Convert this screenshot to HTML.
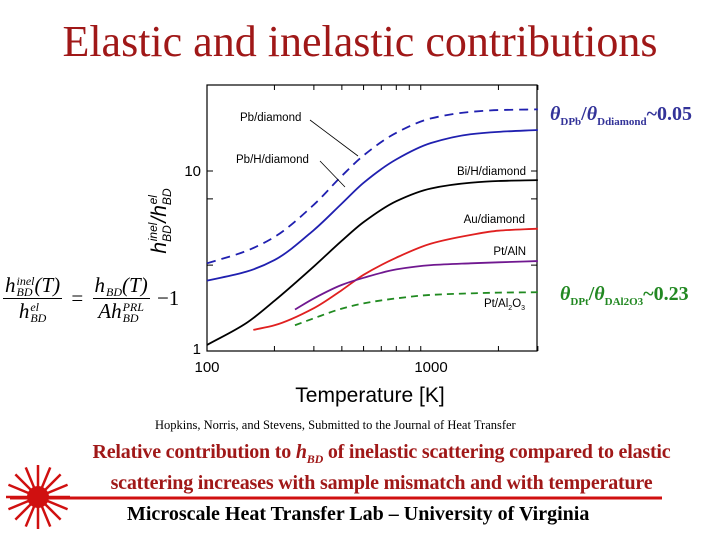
<!DOCTYPE html>
<html><head><meta charset="utf-8"><style>
html,body{margin:0;padding:0;background:#fff}
#wrap{position:relative;width:720px;height:540px;overflow:hidden;font-family:"Liberation Serif",serif}
.abs{position:absolute;white-space:nowrap}
.ss{display:inline-block;vertical-align:middle;line-height:11px;font-size:12px;text-align:left;margin-left:1px}
.ss span{display:block}
.frac{display:inline-block;text-align:center;vertical-align:middle}
.frac>span{display:block;padding:0 2px;line-height:24px}
.frac>span.num{border-bottom:1.2px solid #000}
</style></head><body>
<div id="wrap">
<div class="abs" style="left:0;width:720px;text-align:center;top:16px;font-size:44px;color:#a01818;">Elastic and inelastic contributions</div>
<div class="abs" style="left:550px;top:103px;font-size:20px;color:#333399;font-weight:bold;"><i>θ</i><sub style="font-size:11px">DPb</sub>/<i>θ</i><sub style="font-size:11px">Ddiamond</sub>~0.05</div>
<div class="abs" style="left:560px;top:283px;font-size:20px;color:#228822;font-weight:bold;"><i>θ</i><sub style="font-size:11px">DPt</sub>/<i>θ</i><sub style="font-size:11px">DAl2O3</sub>~0.23</div>
<svg id="chart" width="720" height="540" style="position:absolute;left:0;top:0"></svg>
<div class="abs" style="left:3px;top:273px;font-size:21px;font-style:italic;">
<span class="frac"><span class="num">h<span class="ss"><span>inel</span><span>BD</span></span>(T)</span><span>h<span class="ss"><span>el</span><span>BD</span></span></span></span>
<span style="font-style:normal;margin:0 4px;vertical-align:middle">=</span>
<span class="frac"><span class="num">h<span class="ss"><span>&nbsp;</span><span>BD</span></span>(T)</span><span>Ah<span class="ss"><span>PRL</span><span>BD</span></span></span></span>
<span style="font-style:normal;margin-left:2px;vertical-align:middle">−1</span></div>
<div class="abs" style="left:155px;top:418px;font-size:12.5px;color:#000;">Hopkins, Norris, and Stevens, Submitted to the Journal of Heat Transfer</div>
<div class="abs" style="left:0;width:763px;text-align:center;top:440px;font-size:20px;line-height:24px;color:#a01818;font-weight:bold;letter-spacing:-0.2px">Relative contribution to <i>h</i><sub style="font-size:12px"><i>BD</i></sub> of inelastic scattering compared to elastic<br>scattering increases with sample mismatch and with temperature</div>
<div class="abs" style="left:127px;top:503px;font-size:20px;font-weight:bold;color:#000;letter-spacing:0px">Microscale Heat Transfer Lab – University of Virginia</div>
</div>
<script>
const temps=[100,150,200,300,400,500,700,1000,1500,2000,3000];
const pbDiamond=[3.07,3.6,4.3,6.5,9.4,12.2,16.3,19.6,21.3,21.8,22];
const pbHDiamond=[2.46,2.76,3.2,4.7,6.6,8.6,11.6,14.3,16,16.5,16.9];
const biHDiamond=[1.08,1.43,1.9,2.95,4.1,5.2,6.8,8.0,8.6,8.8,8.9];
const auTemps=[161,200,300,400,500,700,1000,1500,2000,3000];
const auDiamond=[1.31,1.39,1.73,2.18,2.65,3.3,3.95,4.41,4.66,4.78];
const ptTemps=[247,300,400,500,700,1000,1500,2000,3000];
const ptAlN=[1.70,1.96,2.33,2.55,2.84,3.0,3.07,3.11,3.16];
const ptAl2O3=[1.39,1.52,1.72,1.84,1.96,2.05,2.09,2.11,2.12];
const xTicks=[100,1000];
const xMinor=[200,300,400,500,600,700,800,900,2000,3000];
const yTicks=[1,10];
const yMinor=[3,7];
const NS="http://www.w3.org/2000/svg";
const svg=document.getElementById('chart');
const X0=207,XD=224,Y0=351,YD=180,R=537,T=85;
const xs=t=>X0+XD*Math.log10(t/100);
const ys=v=>Y0-YD*Math.log10(v);
function mk(tag,attrs){const e=document.createElementNS(NS,tag);for(const k in attrs)e.setAttribute(k,attrs[k]);svg.appendChild(e);return e;}
const frame=mk('rect',{x:X0,y:T,width:R-X0,height:Y0-T,fill:'none',stroke:'#000','stroke-width':1.2});


xMinor.forEach(t=>{const l=mk('path',{d:`M${xs(t)},${Y0}v-5M${xs(t)},${T}v5`,stroke:'#000'});

});
yMinor.concat([10]).forEach(v=>{const l=mk('path',{d:`M${X0},${ys(v)}h6M${R},${ys(v)}h-6`,stroke:'#000'});

});
xTicks.forEach(t=>{const e=mk('text',{x:xs(t),y:Y0+21,'text-anchor':'middle','font-family':'Liberation Sans, sans-serif','font-size':15});e.textContent=String(t);

});
yTicks.forEach(v=>{const e=mk('text',{x:X0-6,y:ys(v)+(v===1?3:5),'text-anchor':'end','font-family':'Liberation Sans, sans-serif','font-size':15});e.textContent=String(v);

});
const xt=mk('text',{x:370,y:402,'text-anchor':'middle','font-family':'Liberation Sans, sans-serif','font-size':21});xt.textContent='Temperature [K]';


const yt=mk('text',{x:0,y:0,transform:'translate(166,221) rotate(-90)','text-anchor':'middle','font-family':'Liberation Sans, sans-serif','font-size':21,'font-style':'italic'});
yt.innerHTML='h<tspan font-size="12" dy="5">BD</tspan><tspan font-size="12" dx="-16" dy="-14">inel</tspan><tspan dy="9">/h</tspan><tspan font-size="12" dy="5">BD</tspan><tspan font-size="12" dx="-16" dy="-14">el</tspan>';


function curve(tt,vv,color,dash,name){
 const P=tt.map((t,i)=>[xs(t),ys(vv[i])]);const n=P.length;
 const h=[],s=[];for(let i=0;i<n-1;i++){h.push(P[i+1][0]-P[i][0]);s.push((P[i+1][1]-P[i][1])/h[i]);}
 const m=[s[0]];
 for(let i=1;i<n-1;i++){if(s[i-1]*s[i]<=0)m.push(0);else{const w1=2*h[i]+h[i-1],w2=h[i]+2*h[i-1];m.push((w1+w2)/(w1/s[i-1]+w2/s[i]));}}
 m.push(s[n-2]);
 let d=`M${P[0][0]},${P[0][1]}`;
 for(let i=0;i<n-1;i++){const dx=h[i]/3;
  d+=`C${P[i][0]+dx},${P[i][1]+m[i]*dx} ${P[i+1][0]-dx},${P[i+1][1]-m[i+1]*dx} ${P[i+1][0]},${P[i+1][1]}`;}
 const p=mk('path',{d,fill:'none',stroke:color,'stroke-width':1.8,'stroke-dasharray':dash||'none'});
 
 
}
curve(temps,pbDiamond,'#2020b0','9,6','series-pb-diamond');
curve(temps,pbHDiamond,'#2020b0','','series-pb-h-diamond');
curve(temps,biHDiamond,'#000','','series-bi-h-diamond');
curve(auTemps,auDiamond,'#e02020','','series-au-diamond');
curve(ptTemps,ptAlN,'#701890','','series-pt-aln');
curve(ptTemps,ptAl2O3,'#208a20','7,5','series-pt-al2o3');
const labels=[['Pb/diamond',240,121,'start'],['Pb/H/diamond',236,163,'start'],['Bi/H/diamond',526,175,'end'],['Au/diamond',525,223,'end'],['Pt/AlN',526,255,'end']];
labels.forEach(a=>{const e=mk('text',{x:a[1],y:a[2],'text-anchor':a[3],'font-family':'Liberation Sans, sans-serif','font-size':11.5,fill:'#000'});e.textContent=a[0];

});
const al=mk('text',{x:484,y:307,'font-family':'Liberation Sans, sans-serif','font-size':11.5});al.innerHTML='Pt/Al<tspan font-size="7" dy="3">2</tspan><tspan dy="-3">O</tspan><tspan font-size="7" dy="3">3</tspan>';


[['M310,120 L358,156','arrow-pb'],['M320,161 L345,187','arrow-pbh']].forEach(a=>{const l=mk('path',{d:a[0],stroke:'#000','stroke-width':0.8,fill:'none'});

});
const rl=mk('line',{x1:10,y1:498,x2:662,y2:498,stroke:'#d01010','stroke-width':3});


const burst=mk('g',{});


for(let k=0;k<16;k++){const a=k*Math.PI/8;const l=document.createElementNS(NS,'line');
 l.setAttribute('x1',38);l.setAttribute('y1',497);l.setAttribute('x2',38+32*Math.cos(a));l.setAttribute('y2',497+32*Math.sin(a));
 l.setAttribute('stroke','#d01010');l.setAttribute('stroke-width',2.5);burst.appendChild(l);}
const c=document.createElementNS(NS,'circle');c.setAttribute('cx',38);c.setAttribute('cy',497);c.setAttribute('r',11);c.setAttribute('fill','#d01010');burst.appendChild(c);
</script>
</body></html>
